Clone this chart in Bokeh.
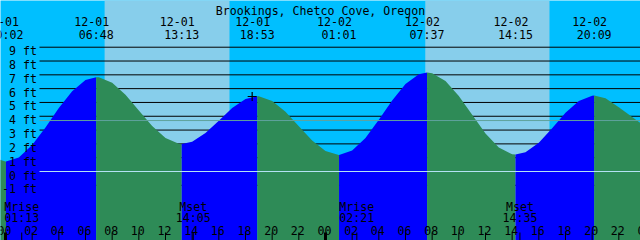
from bokeh.plotting import figure
from bokeh.core.properties import value
from bokeh.embed import file_html
from bokeh.resources import INLINE

# ---------------- data ----------------
title = "Brookings, Chetco Cove, Oregon"

event_dates = ["12-01", "12-01", "12-01", "12-01", "12-02", "12-02", "12-02", "12-02"]
event_times = ["00:02", "06:48", "13:13", "18:53", "01:01", "07:37", "14:15", "20:09"]
event_heights = [0.72, 6.83, 2.00, 5.45, 1.20, 7.17, 1.23, 5.50]
event_kind = ["low", "high", "low", "high", "low", "high", "low", "high"]

# water level (ft) read at each whole hour, hour -1 .. 48 from 12-01 00:00
curve_hours = [-1, 0, 1, 2, 3, 4, 5, 6, 7, 8, 9, 10, 11, 12, 13, 14, 15, 16, 17, 18,
               19, 20, 21, 22, 23, 24, 25, 26, 27, 28, 29, 30, 31, 32, 33, 34, 35, 36,
               37, 38, 39, 40, 41, 42, 43, 44, 45, 46, 47, 48]
curve_heights = [1.05, 0.72, 1.02, 1.91, 3.19, 4.59, 5.82, 6.62, 6.82, 6.42, 5.56, 4.42,
                 3.29, 2.42, 2.01, 2.16, 2.78, 3.68, 4.59, 5.25, 5.45, 5.11, 4.32, 3.27,
                 2.24, 1.48, 1.20, 1.52, 2.43, 3.74, 5.14, 6.33, 7.04, 7.12, 6.56, 5.47,
                 4.11, 2.76, 1.73, 1.25, 1.40, 2.09, 3.14, 4.25, 5.11, 5.49, 5.30, 4.65,
                 3.95, 3.25]

sun_dates = ["12-01", "12-02"]
sunrise_times = ["07:26", "07:29"]
sunset_times = ["16:48", "16:48"]

moon_dates = ["12-01", "12-01", "12-02", "12-02"]
moon_names = ["Mrise", "Mset", "Mrise", "Mset"]
moon_times = ["01:13", "14:05", "02:21", "14:35"]

ft_values = [9, 8, 7, 6, 5, 4, 3, 2, 1, 0, -1]
ft_labels = ["9 ft", "8 ft", "7 ft", "6 ft", "5 ft", "4 ft", "3 ft", "2 ft", "1 ft", "0 ft", "-1 ft"]

hour_ticks = [0, 2, 4, 6, 8, 10, 12, 14, 16, 18, 20, 22, 24, 26, 28, 30, 32, 34, 36, 38,
              40, 42, 44, 46, 48]
hour_labels = ["00", "02", "04", "06", "08", "10", "12", "14", "16", "18", "20", "22",
               "00", "02", "04", "06", "08", "10", "12", "14", "16", "18", "20", "22", "00"]

mean_level = 3.69
datum_level = 0.0
now_date, now_time, now_height = "12-01", "18:30", 5.43

# ---------------- helpers / layout ----------------
def to_hours(date, hhmm):
    day = int(date.split("-")[1]) - 1
    hh, mm = hhmm.split(":")
    return 24 * day + int(hh) + int(mm) / 60.0

PXH = 13.333   # pixels per hour
PXF = 13.81    # pixels per foot
X0 = 5.0       # pixel column of 12-01 00:00
Y0 = 171.0     # pixel row of 0 ft

def xd(px):
    return (px - X0) / PXH

def yd(py):
    return (Y0 - py) / PXF

x_start, x_end = xd(0), xd(640)
y_top, y_bot = yd(0), yd(240)

NIGHT = "#00bfff"
DAY = "#87ceeb"
RISE = "#0000ff"
FALL = "#2e8b57"
FONT = value("DejaVu Sans Mono")
FS = "11.6px"

p = figure(width=640, height=240, x_range=(x_start, x_end), y_range=(y_bot, y_top),
           toolbar_location=None, output_backend="svg", min_border=0,
           x_axis_location=None, y_axis_location=None,
           background_fill_color=NIGHT, border_fill_color=NIGHT, outline_line_color=None)
p.grid.visible = False

# daylight bands
rise_h = [to_hours(d, t) for d, t in zip(sun_dates, sunrise_times)]
set_h = [to_hours(d, t) for d, t in zip(sun_dates, sunset_times)]
p.quad(left=rise_h, right=set_h, bottom=y_bot - 2, top=y_top + 2,
       fill_color=DAY, line_color=None)

# foot lines (behind water)
line_x0 = xd(39)
p.segment(x0=[line_x0] * len(ft_values), x1=[x_end + 1] * len(ft_values),
          y0=ft_values, y1=ft_values, line_color="black", line_width=1)

# water curve split at highs and lows
ev_h = [to_hours(d, t) for d, t in zip(event_dates, event_times)]
bounds = [curve_hours[0]] + ev_h + [curve_hours[-1]]
bvals = [curve_heights[0]] + event_heights + [curve_heights[-1]]
kinds_after = ["low"] + event_kind  # segment i ends at bounds[i+1]
for i in range(len(bounds) - 1):
    a, b = bounds[i], bounds[i + 1]
    xs = [a] + [h for h in curve_hours if a < h < b] + [b]
    ys = [bvals[i]] + [v for h, v in zip(curve_hours, curve_heights) if a < h < b] + [bvals[i + 1]]
    # segment rising if it ends at a high
    end_kind = event_kind[i] if i < len(event_kind) else "low"
    color = RISE if end_kind == "high" else FALL
    p.varea(x=xs, y1=[y_bot - 2] * len(xs), y2=ys, fill_color=color)

# mean level and datum lines
p.segment(x0=[line_x0], x1=[x_end + 1], y0=[mean_level], y1=[mean_level],
          line_color="#5fa39c", line_width=1)
p.segment(x0=[line_x0], x1=[x_end + 1], y0=[datum_level], y1=[datum_level],
          line_color="#b4e2f4", line_width=1)

# now mark
p.scatter(x=[to_hours(now_date, now_time)], y=[now_height], marker="cross", size=9,
          line_color="black", line_width=1.2)

# title
p.text(x=[xd(320)], y=[yd(10)], text=[title], text_font=FONT, text_font_size=FS,
       text_align="center", text_baseline="alphabetic", text_color="black")

# event labels
p.text(x=[h - 4.5 / PXH for h in ev_h], y=[yd(21)] * len(ev_h), text=event_dates,
       text_font=FONT, text_font_size=FS, text_align="center", text_baseline="alphabetic")
p.text(x=ev_h, y=[yd(34)] * len(ev_h), text=event_times,
       text_font=FONT, text_font_size=FS, text_align="center", text_baseline="alphabetic")

# ft labels
p.text(x=[xd(36.5)] * len(ft_values), y=ft_values, y_offset=4, text=ft_labels,
       text_font=FONT, text_font_size=FS, text_align="right", text_baseline="alphabetic")

# moon events
moon_h = [to_hours(d, t) for d, t in zip(moon_dates, moon_times)]
p.text(x=moon_h, y=[yd(206)] * 4, text=moon_names, text_font=FONT, text_font_size=FS,
       text_align="center", text_baseline="alphabetic")
p.text(x=moon_h, y=[yd(217.7)] * 4, text=moon_times, text_font=FONT, text_font_size=FS,
       text_align="center", text_baseline="alphabetic")
p.segment(x0=moon_h, x1=moon_h, y0=[yd(232)] * 4, y1=[yd(241)] * 4,
          line_color="black", line_width=1)

# hour ticks and labels
p.text(x=[h - 1 / PXH for h in hour_ticks], y=[yd(229.5)] * len(hour_ticks), text=hour_labels,
       text_font=FONT, text_font_size=FS, text_align="center", text_baseline="alphabetic")
thin = [h for h in hour_ticks if h % 24 != 0]
thick = [h for h in hour_ticks if h % 24 == 0]
p.segment(x0=thin, x1=thin, y0=[yd(232)] * len(thin), y1=[yd(241)] * len(thin),
          line_color="black", line_width=1)
p.segment(x0=thick, x1=thick, y0=[yd(232)] * len(thick), y1=[yd(241)] * len(thick),
          line_color="black", line_width=3)

open("out.html", "w").write(file_html(p, INLINE))
